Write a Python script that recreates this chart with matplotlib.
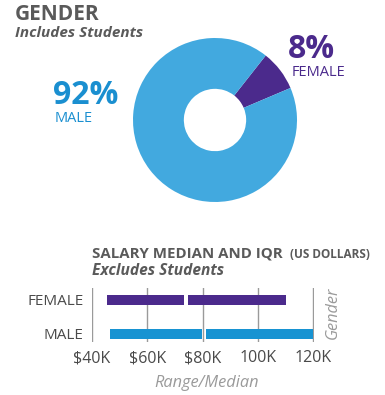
import matplotlib
matplotlib.use("Agg")
import matplotlib.pyplot as plt

plt.rcParams['font.family'] = ['Open Sans', 'DejaVu Sans']

# gender split (percent)
genders = ["FEMALE", "MALE"]
shares = [8, 92]

# salary IQR and median in $K
sal_low = [45.5, 46.5]
sal_median = [74, 80.5]
sal_high = [110, 120]
ticks = [40, 60, 80, 100, 120]
tick_labels = ["$40K", "$60K", "$80K", "100K", "120K"]

blue_light = "#42a9df"
blue_bar = "#1793d2"
blue_text = "#1a8fd0"
purple = "#4b2a8c"
gray_title = "#5a5a5a"
gray_axis = "#9a9a9a"

W, H = 385, 395
fig = plt.figure(figsize=(W / 100, H / 100), dpi=100)

# ---- donut ----
cx, cy, r = 215, 120, 82
ax_pie = fig.add_axes([(cx - r) / W, 1 - (cy + r) / H, 2 * r / W, 2 * r / H])
ax_pie.pie(shares, colors=[purple, blue_light], startangle=23, counterclock=True,
           radius=1.0, wedgeprops=dict(width=0.62, linewidth=0))
ax_pie.set_xlim(-1, 1)
ax_pie.set_ylim(-1, 1)
ax_pie.set_aspect("equal")
ax_pie.axis("off")

fig.text(15 / W, 1 - 14 / H, "GENDER", fontsize=15, fontweight="bold",
         color=gray_title, va="center")
fig.text(15 / W, 1 - 33 / H, "Includes Students", fontsize=11, fontweight="bold",
         style="italic", color=gray_title, va="center")

# percent labels, placed by baseline
fig.text(53 / W, 1 - 104 / H, f"{shares[1]}%", fontsize=23, fontweight="bold",
         color=blue_text, va="baseline")
fig.text(55 / W, 1 - 122 / H, genders[1], fontsize=10.5, color=blue_text, va="baseline")
fig.text(288 / W, 1 - 58 / H, f"{shares[0]}%", fontsize=23, fontweight="bold",
         color=purple, va="baseline")
fig.text(292 / W, 1 - 76 / H, genders[0], fontsize=10.5, color=purple, va="baseline")

# ---- salary bars ----
ax = fig.add_axes([92 / W, 1 - 342 / H, (314 - 92) / W, (342 - 288) / H])
ypos = [1, 0]
colors = [purple, blue_bar]
gap = 0.8
for y, lo, med, hi, c in zip(ypos, sal_low, sal_median, sal_high, colors):
    ax.barh(y, med - gap - lo, left=lo, height=0.3, color=c, zorder=3)
    ax.barh(y, hi - med - gap, left=med + gap, height=0.3, color=c, zorder=3)

ax.set_xlim(40, 120.3)
ax.set_ylim(-0.24, 1.35)
ax.set_xticks(ticks)
ax.set_xticklabels(tick_labels, fontsize=11.5, color="#4a4a4a")
ax.set_yticks(ypos)
ax.set_yticklabels(genders, fontsize=11, color="#4a4a4a")
ax.tick_params(length=0, pad=6)
ax.grid(axis="x", color=gray_axis, linewidth=1, zorder=0)
for s in ax.spines.values():
    s.set_visible(False)

fig.text(92 / W, 1 - 258 / H, "SALARY MEDIAN AND IQR", fontsize=10.8, fontweight="bold",
         color=gray_title, va="baseline")
fig.text(290 / W, 1 - 258 / H, "(US DOLLARS)", fontsize=8.5, fontweight="bold",
         color=gray_title, va="baseline")
fig.text(92 / W, 1 - 271 / H, "Excludes Students", fontsize=11.2, fontweight="bold",
         style="italic", color=gray_title, va="center")
fig.text(333 / W, 1 - 313 / H, "Gender", fontsize=11.7, style="italic",
         color=gray_axis, rotation=90, ha="center", va="center")
fig.text(207 / W, 1 - 383 / H, "Range/Median", fontsize=11.8, style="italic",
         color=gray_axis, ha="center", va="center")

fig.savefig("out.png", dpi=100, facecolor="white")
